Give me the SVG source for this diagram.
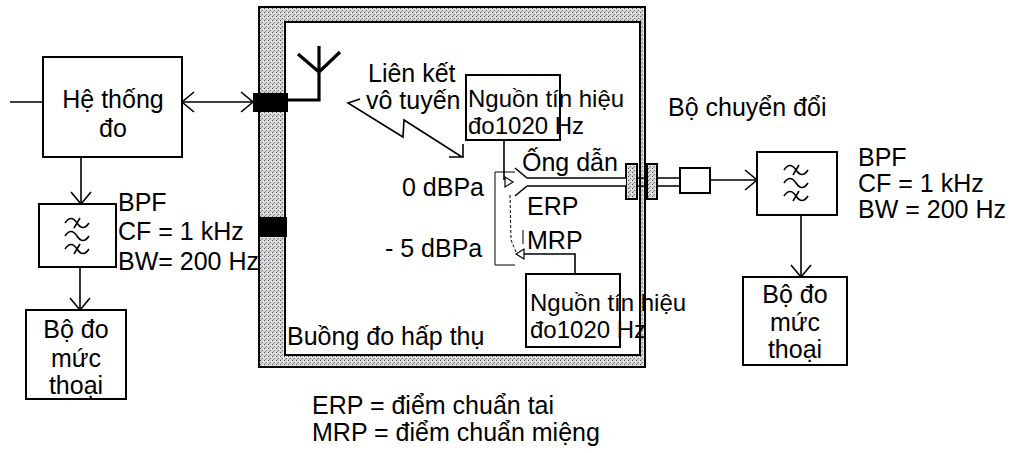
<svg xmlns="http://www.w3.org/2000/svg" width="1011" height="453" viewBox="0 0 1011 453">
<style>
text{font-family:"Liberation Sans",Arial,sans-serif;font-size:25px;fill:#000}
.c{text-anchor:middle}
.s{font-size:24px}
.box{fill:#fff;stroke:#000;stroke-width:2}
.ln{fill:none;stroke:#000;stroke-width:1.6}
.thin{fill:none;stroke:#000;stroke-width:1}
.ar{fill:none;stroke:#000;stroke-width:1.6;marker-end:url(#open)}
</style>
<defs>
<pattern id="stip" width="4" height="4" patternUnits="userSpaceOnUse">
<rect width="4" height="4" fill="#d6d6d6"/>
<rect x="0" y="0" width="1" height="1" fill="#555"/>
<rect x="2" y="2" width="1" height="1" fill="#777"/>
<rect x="3" y="1" width="1" height="1" fill="#fff"/>
<rect x="1" y="3" width="1" height="1" fill="#999"/>
</pattern>
<marker id="open" viewBox="0 0 14 22" refX="13" refY="11" markerWidth="14" markerHeight="22" markerUnits="userSpaceOnUse" orient="auto-start-reverse">
<path d="M1,1 L13,11 L1,21" fill="none" stroke="#000" stroke-width="1.6"/>
</marker>
<g id="filt" fill="none" stroke="#000" stroke-width="1.6">
<path d="M-12,-13 C-8,-19 -4,-19 0,-13 S8,-7 12,-13"/>
<path d="M-12,0 C-8,-6 -4,-6 0,0 S8,6 12,0"/>
<path d="M-12,13 C-8,7 -4,7 0,13 S8,19 12,13"/>
<path d="M-3,-8 L3,-18 M-3,18 L3,8"/>
</g>
</defs>
<rect width="1011" height="453" fill="#fff"/>

<g id="chamber">
<rect x="259" y="7" width="386" height="360" fill="url(#stip)" stroke="#000" stroke-width="2"/>
<rect x="285" y="22" width="355" height="333" fill="#fff" stroke="#000" stroke-width="2"/>
<rect x="253" y="93" width="35" height="19" fill="#000"/>
<rect x="260" y="217" width="27" height="20" fill="#000"/>
<rect x="626" y="164" width="11" height="35" fill="url(#stip)" stroke="#000" stroke-width="2"/>
<rect x="647" y="164" width="10" height="35" fill="url(#stip)" stroke="#000" stroke-width="2"/>
<text x="287" y="345">Buồng đo hấp thụ</text>
</g>

<g id="antenna" fill="none" stroke="#000" stroke-width="3.2">
<path d="M288,100 H319 V46 M319,72 L298,54 M319,72 L340,52"/>
</g>

<g id="radio-link">
<path class="ln" d="M360,99 L348,103 L403,137 L404,120 L462,157 M449,157 H463 V144"/>
<text x="368" y="82">Liên kết</text>
<text x="366" y="109">vô tuyến</text>
</g>

<g id="measuring-system">
<rect class="box" x="43" y="57" width="139" height="100"/>
<text class="c" x="113" y="108">Hệ thống</text>
<text class="c" x="113" y="137">đo</text>
</g>

<g id="bpf-left">
<rect class="box" x="39" y="204" width="77" height="63"/>
<use href="#filt" x="77" y="236"/>
<text x="118" y="211">BPF</text>
<text x="118" y="240">CF = 1 kHz</text>
<text x="118" y="270">BW= 200 Hz</text>
</g>

<g id="meter-left">
<rect class="box" x="26" y="310" width="100" height="89"/>
<text class="c" x="76" y="338">Bộ đo</text>
<text class="c" x="76" y="367">mức</text>
<text class="c" x="76" y="394">thoại</text>
</g>

<g id="source-top">
<rect class="box" x="466" y="75" width="94" height="65" fill="none"/>
<text class="s" x="468" y="107">Nguồn tín hiệu</text>
<text class="s" x="468" y="134">đo1020 Hz</text>
</g>

<g id="source-bottom">
<rect class="box" x="526" y="274" width="94" height="73" fill="none"/>
<text class="s" x="530" y="311">Nguồn tín hiệu</text>
<text class="s" x="530" y="338">đo1020 Hz</text>
</g>

<g id="simulator">
<path class="thin" d="M515,172 H495 V265 H515"/>
<path class="ln" d="M515,168 L527,178 M527,186 L515,196"/>
<path class="thin" stroke-dasharray="3,2" d="M510,195 L511,240 L516,252"/>
<path class="thin" d="M523,230 V244"/>
<rect x="527" y="178" width="99" height="8" fill="#fff" stroke="none"/>
<path class="ln" d="M527,178 H626 M527,186 H626 M637,178 H647 M637,186 H647 M657,178 H680 M657,186 H680"/>
<text x="522" y="171">Ống dẫn</text>
<text x="402" y="196">0 dBPa</text>
<text x="527" y="215">ERP</text>
<text x="527" y="249">MRP</text>
<text x="385" y="257">- 5 dBPa</text>
</g>

<g id="converter">
<rect class="box" x="680" y="168" width="30" height="25"/>
<text x="668" y="116">Bộ chuyển đổi</text>
</g>

<g id="bpf-right">
<rect class="box" x="757" y="152" width="80" height="63"/>
<use href="#filt" x="796" y="183"/>
<text x="858" y="166">BPF</text>
<text x="858" y="192">CF = 1 kHz</text>
<text x="858" y="218">BW = 200 Hz</text>
</g>

<g id="meter-right">
<rect class="box" x="743" y="277" width="104" height="88"/>
<text class="c" x="795" y="303">Bộ đo</text>
<text class="c" x="795" y="331">mức</text>
<text class="c" x="795" y="358">thoại</text>
</g>

<g id="legend">
<text x="312" y="414">ERP = điểm chuẩn tai</text>
<text x="312" y="441">MRP = điểm chuẩn miệng</text>
</g>

<g id="connectors">
<path class="ln" d="M10,102 H43"/>
<path class="ar" d="M182,102 H253" marker-start="url(#open)"/>
<path class="ar" d="M81,157 V204"/>
<path class="ar" d="M80,267 V310"/>
<path class="ar" d="M710,180 H757"/>
<path class="ar" d="M801,215 V277"/>
<path class="ln" d="M504,140 V180"/>
<polygon points="505,177 513,182 505,187" fill="#fff" stroke="#000" stroke-width="1.2"/>
<path class="ln" d="M523,254 H575 V274"/>
<polygon points="516,254 524,249 524,259" fill="#fff" stroke="#000" stroke-width="1.2"/>
</g>
</svg>
